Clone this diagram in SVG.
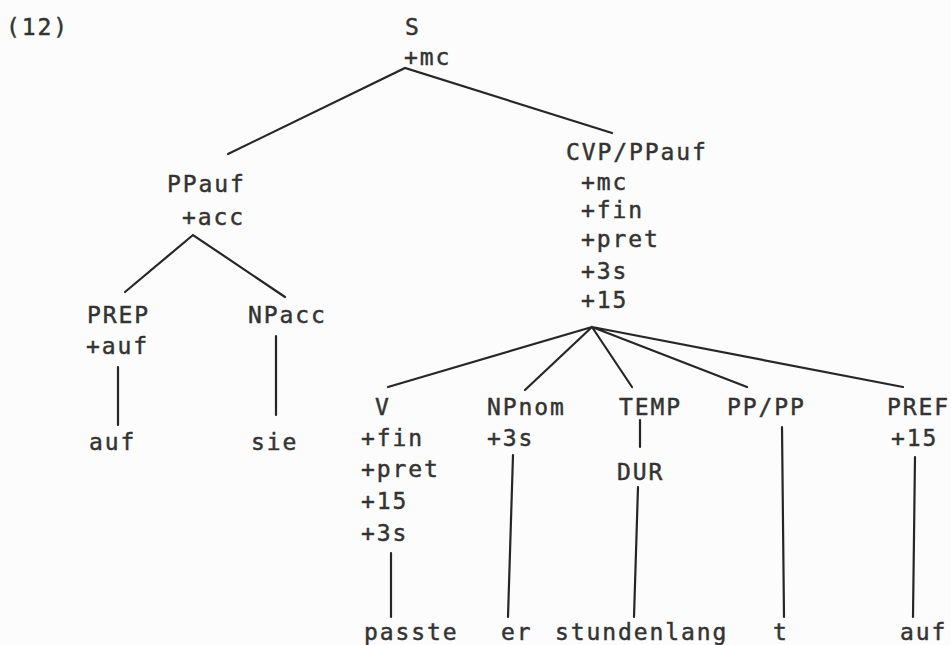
<svg xmlns="http://www.w3.org/2000/svg" width="951" height="645" viewBox="0 0 951 645">
<style>
text{font-family:"DejaVu Sans Mono","Liberation Mono",monospace;font-size:23px;letter-spacing:1.9px;fill:#333;stroke:#333;stroke-width:0.45px}
.e{stroke:#262626;stroke-width:2.2;fill:none;stroke-linecap:round}
</style>
<rect width="951" height="645" fill="#fcfcfc"/>
<text x="6" y="35">(12)</text>
<g id="n-S"><text x="405" y="35">S</text><text x="404" y="65">+mc</text></g>
<g id="n-PPauf"><text x="167" y="192">PPauf</text><text x="182" y="225">+acc</text></g>
<g id="n-CVP"><text x="566" y="160">CVP/PPauf</text><text x="581" y="190">+mc</text><text x="581" y="218">+fin</text><text x="581" y="247">+pret</text><text x="581" y="279">+3s</text><text x="581" y="308">+15</text></g>
<g id="n-PREP"><text x="87" y="323">PREP</text><text x="86" y="354">+auf</text></g>
<g id="n-auf1"><text x="89" y="450">auf</text></g>
<g id="n-NPacc"><text x="248" y="323">NPacc</text></g>
<g id="n-sie"><text x="251" y="450">sie</text></g>
<g id="n-V"><text x="375" y="415">V</text><text x="361" y="446">+fin</text><text x="361" y="477">+pret</text><text x="361" y="509">+15</text><text x="361" y="541">+3s</text></g>
<g id="n-NPnom"><text x="487" y="415">NPnom</text><text x="487" y="446">+3s</text></g>
<g id="n-TEMP"><text x="619" y="415">TEMP</text></g>
<g id="n-DUR"><text x="617" y="480">DUR</text></g>
<g id="n-PPPP"><text x="727" y="415">PP/PP</text></g>
<g id="n-PREF"><text x="887" y="415">PREF</text><text x="891" y="446">+15</text></g>
<g id="n-passte"><text x="364" y="640">passte</text></g>
<g id="n-er"><text x="501" y="640">er</text></g>
<g id="n-stundenlang"><text x="555" y="640">stundenlang</text></g>
<g id="n-t"><text x="773" y="640">t</text></g>
<g id="n-auf2"><text x="900" y="640">auf</text></g>
<g id="connectors" class="e">
<path class="e" d="M228,154 L405,68 L612,133"/>
<path class="e" d="M125,292 L193,235 L285,297"/>
<path class="e" d="M118,367 V425 M276,336 V415"/>
<path class="e" d="M388,387 L592,327 L525,390 M592,327 L632,387 M592,327 L747,387 M592,327 L903,387"/>
<path class="e" d="M640,420 V447 M638,487 L634,617 M513,455 L508,617 M391,553 V617 M782,427 L784,617 M915,457 L913,617"/>
</g>
</svg>
